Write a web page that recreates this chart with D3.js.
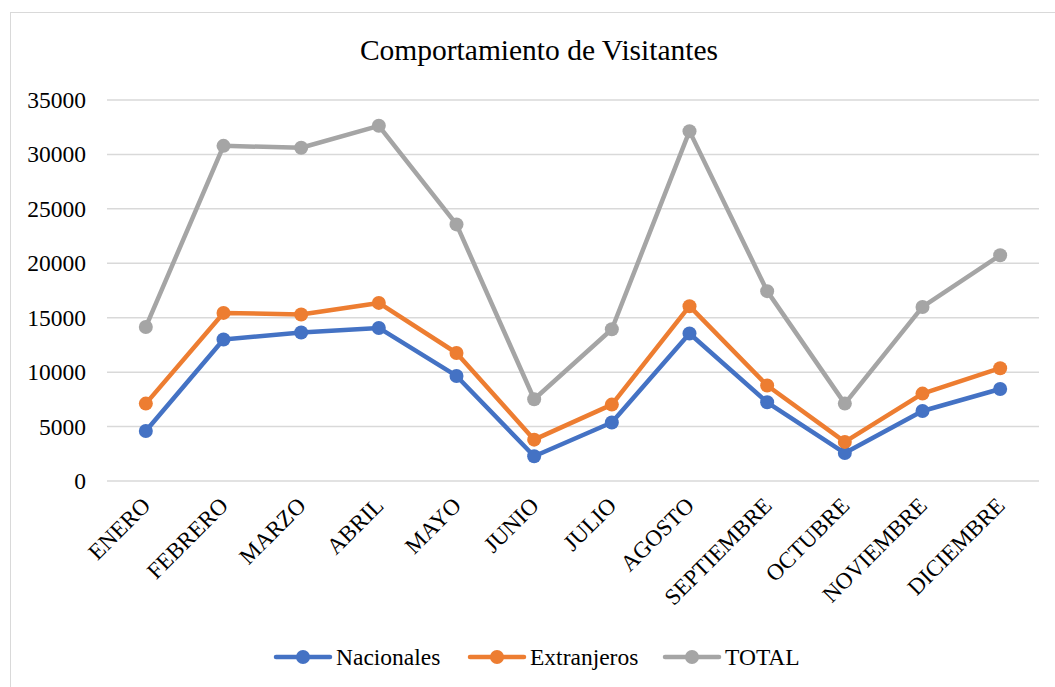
<head>
    <meta charset="utf-8">
    <style> body { margin: 0; background: #fff; } </style>
    <script src="https://d3js.org/d3.v7.min.js"></script>
</head>
<body>
    <div id="chart"></div>
    <script>

        var meses = ["ENERO", "FEBRERO", "MARZO", "ABRIL", "MAYO", "JUNIO", "JULIO", "AGOSTO", "SEPTIEMBRE", "OCTUBRE", "NOVIEMBRE", "DICIEMBRE"];
        var nacionales = [4600, 13000, 13640, 14060, 9650, 2270, 5370, 13550, 7230, 2570, 6430, 8450];
        var extranjeros = [7110, 15440, 15290, 16360, 11760, 3800, 7020, 16060, 8770, 3590, 8030, 10360];
        var total = [14150, 30790, 30610, 32630, 23570, 7510, 13940, 32140, 17440, 7110, 15990, 20740];
        var yTicks = [0, 5000, 10000, 15000, 20000, 25000, 30000, 35000];

        var series = [
            { name: "Nacionales", values: nacionales, col: "#4472C4" },
            { name: "Extranjeros", values: extranjeros, col: "#ED7D31" },
            { name: "TOTAL", values: total, col: "#A5A5A5" }
        ];

        var W = 1055, H = 687;
        var margin = { top: 100, left: 107, right: 16, bottom: 206 };
        var width = W - margin.left - margin.right,
            height = H - margin.top - margin.bottom;

        var svg = d3.select("#chart").append("svg")
            .attr("width", W)
            .attr("height", H)
            .style("font-family", "'Liberation Serif', 'Times New Roman', serif");

        // marco del grafico (cortado a la derecha y abajo)
        svg.append("rect")
            .attr("x", 10.5).attr("y", 12.5)
            .attr("width", W).attr("height", H)
            .attr("fill", "none")
            .attr("stroke", "#D9D9D9")
            .attr("stroke-width", 1);

        svg.append("text")
            .attr("x", 539).attr("y", 60)
            .attr("text-anchor", "middle")
            .attr("font-size", 29.5)
            .attr("fill", "#000")
            .text("Comportamiento de Visitantes");

        var focus = svg.append("g")
            .attr("transform", "translate(" + margin.left + "," + margin.top + ")");

        var x = d3.scaleBand()
            .domain(meses)
            .range([0, width]);

        var y = d3.scaleLinear()
            .domain([0, 35000])
            .range([height, 0]);

        // grid
        focus.append("g")
            .selectAll("line")
            .data(yTicks)
            .join("line")
            .attr("x1", 0).attr("x2", width)
            .attr("y1", d => y(d)).attr("y2", d => y(d))
            .attr("stroke", "#D9D9D9")
            .attr("stroke-width", 1.5);

        var yx = focus.append("g")
            .call(d3.axisLeft(y).tickValues(yTicks).tickSize(0).tickPadding(21).tickFormat(d3.format("d")));
        yx.select(".domain").remove();
        yx.selectAll("text")
            .attr("font-family", "'Liberation Serif', serif")
            .attr("font-size", 23.5)
            .attr("fill", "#000");

        var xx = focus.append("g")
            .attr("transform", "translate(0," + height + ")")
            .call(d3.axisBottom(x).tickSize(0));
        xx.select(".domain").remove();
        xx.selectAll("text")
            .attr("font-family", "'Liberation Serif', serif")
            .attr("font-size", 23)
            .attr("fill", "#000")
            .attr("text-anchor", "end")
            .attr("dy", null)
            .attr("y", 0)
            .attr("transform", "translate(6,26) rotate(-45)");

        var line = d3.line()
            .x((d, i) => x(meses[i]) + x.bandwidth() / 2)
            .y(d => y(d));

        series.forEach(function(s) {
            var g = focus.append("g");
            g.append("path")
                .datum(s.values)
                .attr("fill", "none")
                .attr("stroke", s.col)
                .attr("stroke-width", 4.5)
                .attr("stroke-linejoin", "round")
                .attr("stroke-linecap", "round")
                .attr("d", line);
            g.selectAll("circle")
                .data(s.values)
                .join("circle")
                .attr("cx", (d, i) => x(meses[i]) + x.bandwidth() / 2)
                .attr("cy", d => y(d))
                .attr("r", 7)
                .attr("fill", s.col);
        });

        // leyenda
        var legX = [276, 470, 665];
        var leg = svg.append("g");
        series.forEach(function(s, i) {
            var g = leg.append("g").attr("transform", "translate(" + legX[i] + ",657)");
            g.append("line")
                .attr("x1", 0).attr("x2", 54)
                .attr("stroke", s.col)
                .attr("stroke-width", 4.5)
                .attr("stroke-linecap", "round");
            g.append("circle").attr("cx", 27).attr("r", 7).attr("fill", s.col);
            g.append("text")
                .attr("x", 60).attr("y", 8)
                .attr("font-size", 23.5)
                .attr("fill", "#000")
                .text(s.name);
        });

    </script>
</body>
